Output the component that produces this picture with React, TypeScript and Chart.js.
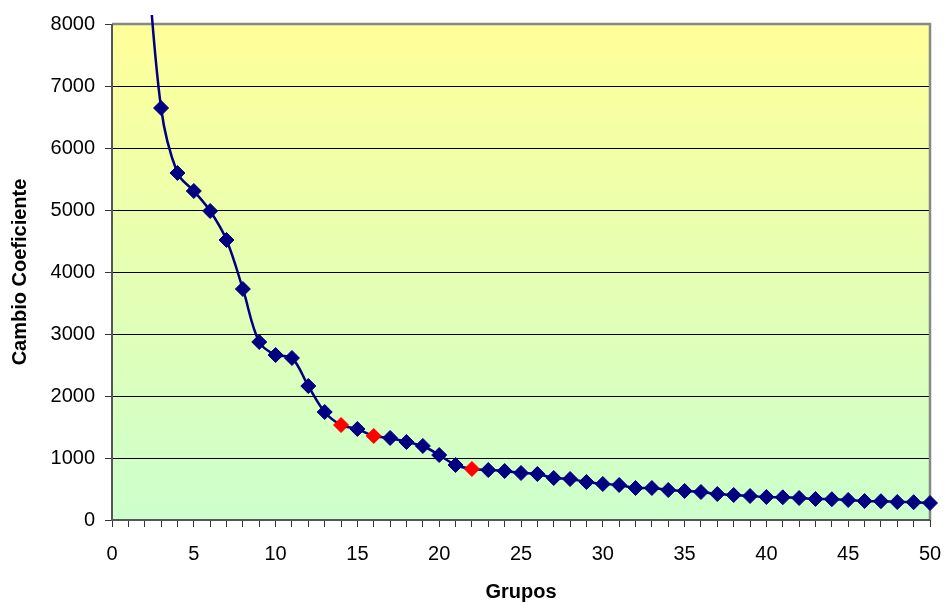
import React, { useEffect, useRef } from "react";
import { Chart, registerables } from "chart.js";

Chart.register(...registerables);

const groups = [2, 3, 4, 5, 6, 7, 8, 9, 10, 11, 12, 13, 14, 15, 16, 17, 18, 19, 20, 21, 22, 23, 24, 25, 26, 27, 28, 29, 30, 31, 32, 33, 34, 35, 36, 37, 38, 39, 40, 41, 42, 43, 44, 45, 46, 47, 48, 49, 50];
const coefficients = [9600, 6645, 5597, 5306, 4984, 4516, 3726, 2871, 2661, 2613, 2161, 1742, 1532, 1468, 1355, 1323, 1258, 1194, 1048, 887, 823, 806, 790, 758, 742, 677, 661, 613, 581, 565, 516, 516, 484, 468, 452, 419, 403, 387, 371, 366, 355, 339, 335, 323, 306, 303, 290, 287, 274];
const highlightedGroups = [14, 16, 22];
const yTicks = [0, 1000, 2000, 3000, 4000, 5000, 6000, 7000, 8000];
const xLabelStep = 5;

const NAVY = "#000080";
const RED = "#FF0000";
const FONT = "Arial, 'Liberation Sans', sans-serif";

const backgroundPlugin = {
  id: "bgGradient",
  beforeDraw(chart: any) {
    const { ctx, chartArea } = chart;
    if (!chartArea) return;
    const g = ctx.createLinearGradient(0, chartArea.top, 0, chartArea.bottom);
    g.addColorStop(0, "#FFFF99");
    g.addColorStop(1, "#CCFFCC");
    ctx.save();
    ctx.fillStyle = g;
    ctx.fillRect(chartArea.left, chartArea.top, chartArea.right - chartArea.left, chartArea.bottom - chartArea.top);
    ctx.restore();
  },
  beforeDatasetsDraw(chart: any) {
    const { ctx, chartArea } = chart;
    ctx.save();
    ctx.strokeStyle = "#888888";
    ctx.lineWidth = 2.5;
    ctx.beginPath();
    ctx.moveTo(chartArea.left, chartArea.top);
    ctx.lineTo(chartArea.right, chartArea.top);
    ctx.lineTo(chartArea.right, chartArea.bottom);
    ctx.stroke();
    ctx.strokeStyle = "#555555";
    ctx.lineWidth = 2;
    ctx.beginPath();
    ctx.moveTo(chartArea.left, chartArea.top);
    ctx.lineTo(chartArea.left, chartArea.bottom);
    ctx.lineTo(chartArea.right, chartArea.bottom);
    ctx.stroke();
    ctx.restore();
  },
};

export default function App() {
  const ref = useRef<HTMLCanvasElement | null>(null);
  useEffect(() => {
    if (!ref.current) return;
    const data = groups.map((g, i) => ({ x: g, y: coefficients[i] }));
    const colors = groups.map((g) => (highlightedGroups.includes(g) ? RED : NAVY));
    const chart = new Chart(ref.current, {
      type: "line",
      data: {
        datasets: [
          {
            data,
            borderColor: NAVY,
            borderWidth: 2.5,
            tension: 0.35,
            pointStyle: "rectRot",
            pointRadius: 7.5,
            pointBackgroundColor: colors,
            pointBorderColor: colors,
            pointBorderWidth: 1,
            clip: { left: 0, top: 9, right: 10, bottom: 0 } as any,
          },
        ],
      },
      options: {
        animation: false,
        responsive: false,
        devicePixelRatio: 1,
        layout: { padding: { left: 0, top: 24, right: 16, bottom: 0 } },
        plugins: { legend: { display: false }, tooltip: { enabled: false } },
        scales: {
          x: {
            type: "linear",
            min: 0,
            max: 50,
            afterFit(scale: any) {
              scale.height = 83;
              scale.paddingLeft = 0;
              scale.paddingRight = 0;
            },
            ticks: {
              stepSize: 1,
              autoSkip: false,
              maxRotation: 0,
              padding: 15,
              color: "#000",
              font: { family: FONT, size: 20 },
              callback: (v: any) => (Number(v) % xLabelStep === 0 ? String(v) : ""),
            },
            grid: {
              drawOnChartArea: false,
              drawTicks: true,
              tickLength: 7,
              tickColor: "#333",
              tickWidth: 1,
            },
            border: { display: false },
            title: {
              display: true,
              text: "Grupos",
              color: "#000",
              font: { family: FONT, size: 20, weight: "bold" },
              padding: { top: 0, bottom: -1 },
            },
          },
          y: {
            type: "linear",
            min: 0,
            max: 8000,
            afterFit(scale: any) {
              scale.width = 112;
            },
            afterBuildTicks(scale: any) {
              scale.ticks = yTicks.map((v) => ({ value: v }));
            },
            ticks: {
              padding: 10,
              color: "#000",
              font: { family: FONT, size: 20 },
              callback: (v: any) => String(v),
            },
            grid: {
              color: "#000",
              lineWidth: 1,
              drawTicks: true,
              tickLength: 7,
              tickColor: "#333",
            },
            border: { display: false },
            title: {
              display: true,
              text: "Cambio Coeficiente",
              color: "#000",
              font: { family: FONT, size: 20, weight: "bold" },
              padding: { top: 8, bottom: 0 },
            },
          },
        },
      },
      plugins: [backgroundPlugin],
    });
    return () => chart.destroy();
  }, []);
  return (
    <div style={{ position: "absolute", left: 0, top: 0, width: 946, height: 603, background: "#fff" }}>
      <canvas ref={ref} width={946} height={603} />
    </div>
  );
}
